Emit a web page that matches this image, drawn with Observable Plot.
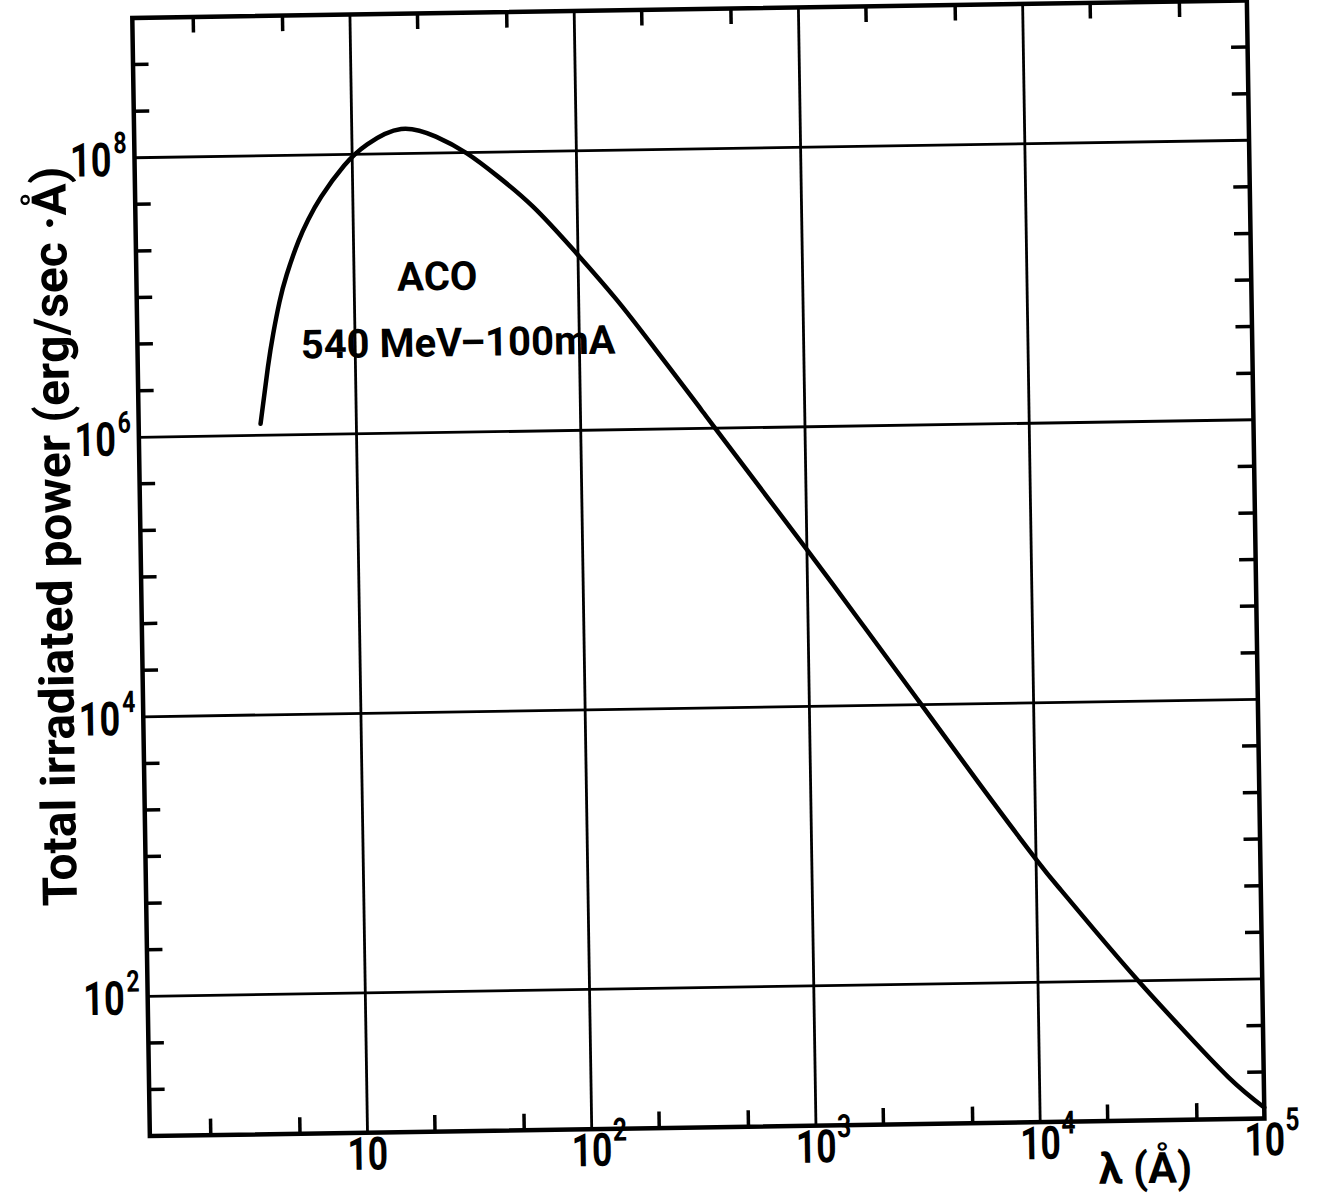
<!DOCTYPE html>
<html><head><meta charset="utf-8">
<script src="https://cdn.jsdelivr.net/npm/d3@7"></script>
<script src="https://cdn.jsdelivr.net/npm/@observablehq/plot@0.6"></script>
<style>html,body{margin:0;padding:0;background:#fff;overflow:hidden}</style>
</head><body><div id="chart"></div>
<script>
// Curve: wavelength (Å) and total irradiated power (erg/sec·Å)
const wavelength = [3.74, 4.07, 4.32, 4.63, 5.01, 5.68, 6.31, 7.23, 9.20, 11.7, 16.6, 23.7, 32.5, 44.6, 63.5, 94.4, 146, 216, 333, 389, 1000, 1774, 3090, 5640, 10000, 12880, 18030, 27990, 41980, 69660, 100000];
const power = [1.21e6, 3.07e6, 5.31e6, 8.93e6, 1.40e7, 2.42e7, 3.46e7, 5.02e7, 8.34e7, 1.175e8, 1.50e8, 1.31e8, 9.86e7, 6.67e7, 4.03e7, 2.0e7, 8.71e6, 3.80e6, 1.48e6, 1.05e6, 1.32e5, 3.67e4, 1.05e4, 2.69e3, 759, 452, 233, 100, 47.9, 19.9, 12.0];

// Grid and ticks
const xGrid = [10, 100, 1000, 10000];
const yGrid = [1e2, 1e4, 1e6, 1e8];
const xMinorTicks = [2, 5, 20, 50, 200, 500, 2000, 5000, 20000, 50000];
const yMinorTicks = [21.5, 46.4, 215, 464, 1000, 2154, 4642, 21544, 46416, 1e5, 2.154e5, 4.642e5, 2.154e6, 4.642e6, 1e7, 2.154e7, 4.642e7, 2.154e8, 4.642e8];

// Tick labels
const xLabelValues = [10, 100, 1000, 10000, 100000];
const xLabelExponents = ["", "2", "3", "4", "5"];
const yLabelValues = [1e2, 1e4, 1e6, 1e8];
const yLabelExponents = ["2", "4", "6", "8"];

const xTitle = "λ (Å)";
const yTitle = "Total irradiated power (erg/sec ·Å)";
const annotations = [
  {label: "ACO", lambda: 23.5, power: 1.29e7},
  {label: "540 MeV–100mA", lambda: 28.8, power: 4.33e6}
];

const curveData = wavelength.map((l, i) => ({lambda: l, power: power[i]}));
const xLabels = xLabelValues.map((v, i) => ({v, e: xLabelExponents[i]}));
const yLabels = yLabelValues.map((v, i) => ({v, e: yLabelExponents[i]}));

const W = 1318, H = 1240;
const mL = 141, mR = 62.3, mT = 9.3, mB = 112.5;
const fw = W - mL - mR, fh = H - mT - mB;
const tickLen = 16;
const font = "Roboto, 'DejaVu Sans', sans-serif";

const plot = Plot.plot({
  width: W, height: H,
  marginLeft: mL, marginRight: mR, marginTop: mT, marginBottom: mB,
  x: {type: "log", domain: [1.07, 1e5], axis: null},
  y: {type: "log", domain: [10, 1e9], axis: null},
  marks: [
    Plot.ruleX(xGrid, {stroke: "#000", strokeWidth: 2.8}),
    Plot.ruleY(yGrid, {stroke: "#000", strokeWidth: 2.8}),
    Plot.tickX(xMinorTicks, {x: d => d, insetTop: fh - tickLen, stroke: "#000", strokeWidth: 3.5}),
    Plot.tickX(xMinorTicks, {x: d => d, insetBottom: fh - tickLen, stroke: "#000", strokeWidth: 3.5}),
    Plot.tickY(yMinorTicks, {y: d => d, insetRight: fw - tickLen, stroke: "#000", strokeWidth: 3.5}),
    Plot.tickY(yMinorTicks, {y: d => d, insetLeft: fw - tickLen, stroke: "#000", strokeWidth: 3.5}),
    Plot.frame({stroke: "#000", strokeWidth: 4.5}),
    Plot.line(curveData, {x: "lambda", y: "power", curve: "natural", stroke: "#000", strokeWidth: 4.5}),
    Plot.text(annotations, {x: "lambda", y: "power", text: "label", fontSize: 40, fontWeight: "bold", fontFamily: font, fill: "#000"}),
    // x tick labels
    Plot.text(xLabels, {x: "v", text: () => "10", frameAnchor: "bottom", dy: 37, fontSize: 46, fontWeight: "bold", fontFamily: font, textAnchor: "middle", fill: "#000", ariaDescription: "numlabel"}),
    Plot.text(xLabels, {x: "v", text: "e", frameAnchor: "bottom", dx: 21, dy: 12, fontSize: 32, fontWeight: "bold", fontFamily: font, textAnchor: "start", fill: "#000", ariaDescription: "numlabel"}),
    // y tick labels
    Plot.text(yLabels, {y: "v", text: () => "10", frameAnchor: "left", dx: -23, dy: 3, fontSize: 47, fontWeight: "bold", fontFamily: font, textAnchor: "end", fill: "#000", ariaDescription: "numlabel"}),
    Plot.text(yLabels, {y: "v", text: "e", frameAnchor: "left", dx: -21, dy: -14.5, fontSize: 30, fontWeight: "bold", fontFamily: font, textAnchor: "start", fill: "#000", ariaDescription: "numlabel"}),
    // axis titles
    Plot.text([yTitle], {frameAnchor: "left", rotate: -90, dx: -84.7, dy: -41.9, fontSize: 48, fontWeight: "bold", fontFamily: font, textAnchor: "middle", fill: "#000"}),
    Plot.text([xTitle], {frameAnchor: "bottom-right", dx: -119.7, dy: 62.5, fontSize: 43, fontWeight: "bold", fontFamily: font, textAnchor: "middle", fill: "#000"})
  ]
});

// condensed look of the scanned tick numerals
plot.querySelectorAll('[aria-description="numlabel"] text').forEach(t => {
  const tr = t.getAttribute("transform") || "";
  const x = t.getAttribute("x");
  if (x !== null && !isNaN(+x)) {
    t.removeAttribute("x");
    t.setAttribute("transform", `${tr} translate(${x},0) scale(0.77,1)`);
  } else {
    t.setAttribute("transform", `${tr} scale(0.77,1)`);
  }
});
plot.style.transform = "rotate(-0.9deg)";
plot.style.transformOrigin = "659px 600px";
plot.style.overflow = "visible";
document.getElementById("chart").appendChild(plot);
</script>
</body></html>
